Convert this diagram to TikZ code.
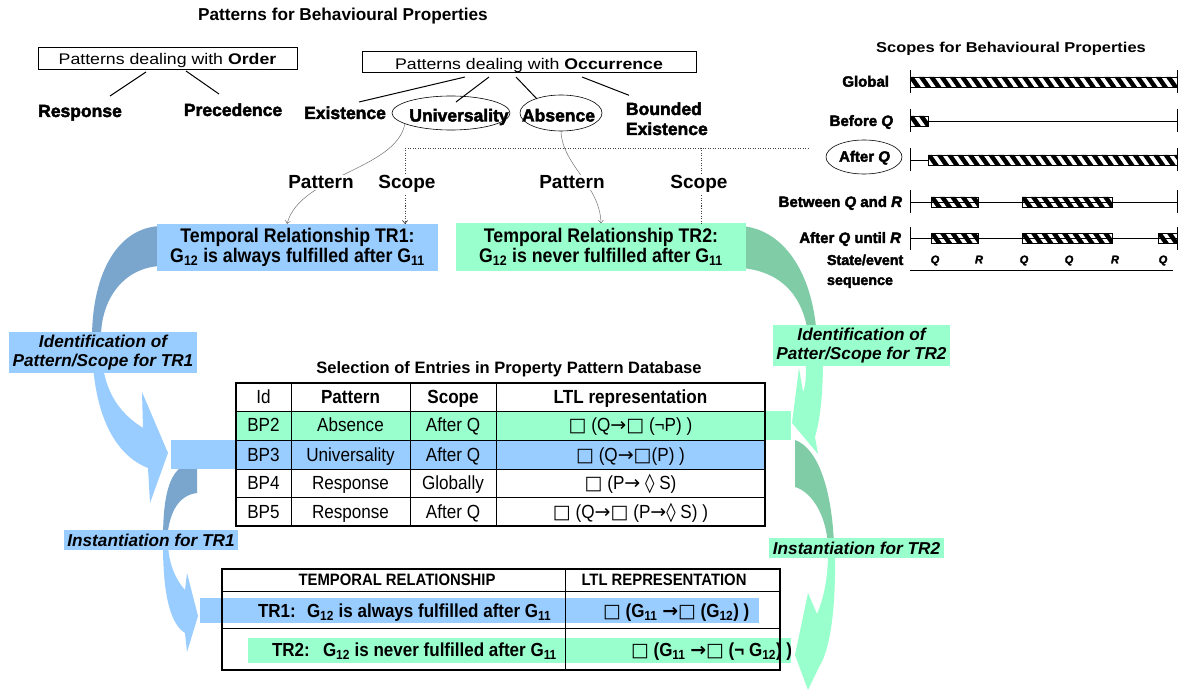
\documentclass[tikz,border=0pt]{standalone}
\usepackage{fontspec}
\setmainfont{Liberation Sans}
\newfontfamily\widef{Liberation Sans}[FakeStretch=1.15]
\newfontfamily\narrowf{Liberation Sans}[FakeStretch=0.9]
\newfontfamily\heavyf{Liberation Sans}[FakeBold=2.5]
\newfontfamily\symf{DejaVu Sans}
\usetikzlibrary{arrows.meta,calc,shapes.geometric}

\definecolor{tblue}{HTML}{99CCFF}
\definecolor{tgreen}{HTML}{99FFCC}
\definecolor{dblue}{HTML}{7AA6CE}
\definecolor{dgreen}{HTML}{7FCCA6}

% LTL operators
\newcommand\ltlbox{{\symf □}}
\newcommand\ltlarr{{\symf →}}
\newcommand\ltlloz{{\symf ◊}}

% hatched interval of a scope line: from x=#1 to x=#2 on the line y=#3
\newcommand\hatchseg[3]{%
  \begin{scope}
    \clip (#1,#3-5) rectangle (#2,#3+5);
    \pgfmathsetmacro\hatchA{#1-12}
    \pgfmathsetmacro\hatchB{#1-1.7}
    \foreach \hx in {\hatchA,\hatchB,...,#2}
      \fill (\hx,#3-5) -- ++(5.5,0) -- ++(7,10) -- ++(-5.5,0) -- cycle;
  \end{scope}
  \draw[line width=0.8pt] (#1,#3-5) rectangle (#2,#3+5);}

\begin{document}
\begin{tikzpicture}[x=1pt,y=-1pt,
  every node/.style={inner sep=0pt,outer sep=0pt},
  heavy/.style={anchor=base,font=\heavyf\bfseries\fontsize{17.5}{20}\selectfont},
  scopelbl/.style={anchor=base east,font=\heavyf\bfseries\fontsize{15}{20}\selectfont},
  pslabel/.style={anchor=base,fill=white,inner sep=1pt,font=\bfseries\fontsize{19}{22}\selectfont},
  catbox/.style={draw,line width=1pt,minimum height=22},
  cattext/.style={anchor=base,font=\widef\fontsize{15.4}{18}\selectfont},
  oval/.style={ellipse,draw,line width=0.6pt},
  trbox/.style={align=center,minimum height=47,font=\narrowf\bfseries\fontsize{19.7}{17.5}\selectfont},
  steplbl/.style={align=center,font=\bfseries\itshape\fontsize{17.2}{19}\selectfont},
  branch/.style={line width=1pt},
  guide/.style={black!55,line width=0.5pt,-{Straight Barb[length=3pt,width=5pt]}},
  dots/.style={black!75,line width=0.7pt,dash pattern=on 1pt off 1.5pt},
  cell/.style={anchor=base,font=\narrowf\fontsize{19}{22}\selectfont},
  cellb/.style={anchor=base,font=\narrowf\bfseries\fontsize{19}{22}\selectfont},
  rowtxt/.style={anchor=base west,font=\narrowf\bfseries\fontsize{18.9}{22}\selectfont},
  headtxt/.style={anchor=base,font=\narrowf\bfseries\fontsize{16.5}{20}\selectfont},
  qr/.style={anchor=base,font=\heavyf\bfseries\itshape\fontsize{11}{13}\selectfont}]

\fill[white] (0,0) rectangle (1179,690);
\useasboundingbox (0,0) rectangle (1179,690);

% ---------- curved step arrows, TR1 side ----------
\fill[dblue] (160,226) .. controls (118,228) and (93,272) .. (92,335)
  -- (92,352) -- (101,352) -- (101,335) .. controls (102,298) and (124,268) .. (160,266) -- cycle;
\fill[tblue] (92,345) .. controls (93,415) and (115,455) .. (148,468)
  -- (150,503) -- (168,453) -- (142,392) -- (143,428)
  .. controls (118,412) and (102,390) .. (101,345) -- cycle;
\fill[dblue] (180,468) -- (197,468) -- (197,493) .. controls (180,495) and (169,510) .. (167,540)
  -- (163,540) .. controls (163,500) and (168,478) .. (180,468) -- cycle;
\fill[tblue] (163,545) .. controls (163,600) and (172,625) .. (185,633)
  -- (187,652) -- (198,616) -- (187,573) -- (185,590)
  .. controls (176,580) and (169,565) .. (168,545) -- cycle;

% ---------- curved step arrows, TR2 side ----------
\fill[dgreen] (742,226) .. controls (785,230) and (814,275) .. (817,340)
  -- (809,340) .. controls (805,300) and (785,272) .. (742,268) -- cycle;
\fill[tgreen] (823,360) .. controls (823,395) and (820,420) .. (815,437)
  -- (818,454) -- (792,423) -- (799,368) -- (803,392)
  .. controls (806,385) and (806,375) .. (806,360) -- cycle;
\fill[dgreen] (795,440) .. controls (818,448) and (832,490) .. (834,545)
  -- (828,545) .. controls (826,515) and (812,492) .. (795,487) -- cycle;
\fill[tgreen] (835,552) .. controls (836,610) and (830,650) .. (819,667)
  -- (808,690) -- (795,655) -- (808,593) -- (817,614)
  .. controls (825,595) and (828,575) .. (828,552) -- cycle;

% ---------- scopes ----------
\node[anchor=base,font=\widef\bfseries\fontsize{14.3}{17}\selectfont] (sct) at (1011,53) {Scopes for Behavioural Properties};
\foreach \yy in {82,121,160,202,238} {
  \draw[line width=0.8pt] (910,\yy-11.5) -- (910,\yy+11.5);
  \draw[line width=0.8pt] (1177,\yy-11.5) -- (1177,\yy+11.5);
}
\draw[line width=0.8pt] (928,121) -- (1177,121);
\draw[line width=0.8pt] (910,160) -- (928,160);
\draw[line width=0.8pt] (910,202) -- (1177,202);
\draw[line width=0.8pt] (910,238) -- (1177,238);
\hatchseg{910}{1177}{82}
\hatchseg{910}{928}{121}
\hatchseg{928}{1177}{160}
\hatchseg{931}{978}{202}
\hatchseg{1022}{1112}{202}
\hatchseg{931}{978}{238}
\hatchseg{1022}{1112}{238}
\hatchseg{1158}{1177}{238}
\node[scopelbl] (sglob) at (889,86.7) {Global};
\node[scopelbl] (sbef) at (893,126) {Before \textit{Q}};
\node[oval,minimum width=76,minimum height=34] (aq) at (864,157) {};
\node[anchor=base,font=\heavyf\bfseries\fontsize{15}{20}\selectfont] (aqt) at (864.5,161.7) {After \textit{Q}};
\node[scopelbl] (sbet) at (902,207) {Between \textit{Q} and \textit{R}};
\node[scopelbl] (sunt) at (901,243) {After \textit{Q} until \textit{R}};
\node[anchor=north west,align=left,font=\heavyf\bfseries\fontsize{14.3}{20}\selectfont] (sseq) at (827,254.6) {State/event\\sequence};
\node[qr] (e1) at (935,263.3) {Q};
\node[qr] (e2) at (979,263.3) {R};
\node[qr] (e3) at (1024,263.3) {Q};
\node[qr] (e4) at (1069,263.3) {Q};
\node[qr] (e5) at (1115,263.3) {R};
\node[qr] (e6) at (1163,263.3) {Q};
\draw[line width=0.8pt] (910,270) -- (1173,270);

% ---------- pattern catalogue ----------
\node[anchor=base,font=\bfseries\fontsize{17.2}{20}\selectfont] (title) at (343,21) {Patterns for Behavioural Properties};
\node[catbox,minimum width=259] (order) at (167.5,59) {};
\node[cattext] (ordert) at (167.5,65) {Patterns dealing with \textbf{Order}};
\node[catbox,minimum width=334,minimum height=21] (occ) at (529,62.5) {};
\node[cattext] (occt) at (529,69.3) {Patterns dealing with \textbf{Occurrence}};
\node[heavy] (resp) at (80,117) {Response};
\node[heavy] (prec) at (233,116) {Precedence};
\node[heavy] (exist) at (345,119) {Existence};
\node[oval,minimum width=118,minimum height=34] (univ) at (451,113) {};
\node[heavy] (univt) at (459,121.5) {Universality};
\node[oval,minimum width=82,minimum height=36] (absn) at (561,113) {};
\node[heavy] (absnt) at (558.5,121.5) {Absence};
\node[heavy,anchor=north west,align=left] (bnd) at (626,102.3) {Bounded\\Existence};
\draw[branch] ($(order.south)+(-21.5,2)$) -- ($(resp.base)+(30,-21)$);
\draw[branch] ($(order.south)+(18.5,1)$) -- ($(prec.base)+(-14,-22)$);
\draw[branch] ($(occ.south)+(-64,4)$) -- ($(exist.base)+(14,-17)$);
\draw[branch] ($(occ.south)+(-40,4)$) -- ($(univ.north)+(5,6)$);
\draw[branch] ($(occ.south)+(-13,4)$) -- ($(absn.north)+(-24,4)$);
\draw[branch] ($(occ.south)+(53,4)$) -- ($(bnd.north west)+(3,-7)$);

% ---------- temporal relationships ----------
\node[trbox,fill=tblue,minimum width=281] (tr1) at (297.5,247.5)
  {Temporal Relationship TR1:\\G\textsubscript{12} is always fulfilled after G\textsubscript{11}};
\node[trbox,fill=tgreen,minimum width=290] (tr2) at (601,247)
  {Temporal Relationship TR2:\\G\textsubscript{12} is never fulfilled after G\textsubscript{11}};

% pattern and scope links
\draw[guide] (univ.193) .. controls (396,170) and (300,175) .. ($(tr1.north)+(-10.5,0)$);
\draw[guide] (absn.south) .. controls (562,165) and (600,185) .. (tr2.north);
\coordinate (sj) at (405,148);
\draw[dots] (sj) -- ($(aq.west)+(-16,-9)$);
\draw[dots,-{Straight Barb[length=3pt,width=5pt]}] (sj) -- ($(tr1.north west)+(248,0)$);
\draw[dots] ($(sj)+(296,0)$) -- ($(tr2.north west)+(245,0)$);
\node[pslabel] (pat1) at (321,189) {Pattern};
\node[pslabel] (sco1) at (407,189) {Scope};
\node[pslabel] (pat2) at (572,189) {Pattern};
\node[pslabel] (sco2) at (699,189) {Scope};

% ---------- step labels ----------
\node[steplbl,fill=tblue,minimum width=188,minimum height=41] (id1) at (103,352.5) {Identification of\\Pattern/Scope for TR1};
\node[steplbl,fill=tblue,minimum width=174,minimum height=20] (in1) at (151,540) {Instantiation for TR1};
\node[steplbl,fill=tgreen,minimum width=177,minimum height=41] (id2) at (861.5,345.5) {Identification of\\Patter/Scope for TR2};
\node[steplbl,fill=tgreen,minimum width=175,minimum height=20] (in2) at (856.5,548) {Instantiation for TR2};

% ---------- property pattern database ----------
\node[anchor=base,font=\bfseries\fontsize{16.5}{20}\selectfont] (dbt) at (509,373) {Selection of Entries in Property Pattern Database};
\fill[tgreen] (236,411) rectangle (791,440);
\fill[tblue] (171,440) rectangle (765,469);
\draw[line width=1pt] (236,411) -- (765,411) (236,440) -- (765,440) (236,469) -- (765,469) (236,497) -- (765,497)
  (291,383) -- (291,526) (410,383) -- (410,526) (496,383) -- (496,526);
\draw[line width=2pt] (236,383) rectangle (765,526);
\node[cell] (h1) at (263.5,403.5) {Id};
\node[cellb] (h2) at (350.5,403.5) {Pattern};
\node[cellb] (h3) at (453,403.5) {Scope};
\node[cellb] (h4) at (630.5,403.5) {LTL representation};
\node[cell] (a1) at (263.5,431.5) {BP2};
\node[cell] (a2) at (350.5,431.5) {Absence};
\node[cell] (a3) at (453,431.5) {After Q};
\node[cell] (a4) at (630.5,431.5) {\ltlbox{} (Q\ltlarr\ltlbox{} (¬P) )};
\node[cell] (b1) at (263.5,461) {BP3};
\node[cell] (b2) at (350.5,461) {Universality};
\node[cell] (b3) at (453,461) {After Q};
\node[cell] (b4) at (630.5,461) {\ltlbox{} (Q\ltlarr\ltlbox(P) )};
\node[cell] (c1) at (263.5,489.5) {BP4};
\node[cell] (c2) at (350.5,489.5) {Response};
\node[cell] (c3) at (453,489.5) {Globally};
\node[cell] (c4) at (630.5,489.5) {\ltlbox{} (P\ltlarr{} \ltlloz{} S)};
\node[cell] (d1) at (263.5,518) {BP5};
\node[cell] (d2) at (350.5,518) {Response};
\node[cell] (d3) at (453,518) {After Q};
\node[cell] (d4) at (630.5,518) {\ltlbox{} (Q\ltlarr\ltlbox{} (P\ltlarr\ltlloz{} S) )};

% ---------- instantiated relationships ----------
\fill[tblue] (200,598) rectangle (759,623);
\fill[tgreen] (248,638) rectangle (791,663);
\draw[line width=1pt] (222,591) -- (780,591) (222,628) -- (780,628) (565,569) -- (565,670);
\draw[line width=1.2pt] (222,569) rectangle (780,670);
\node[headtxt] (th1) at (397,585) {TEMPORAL RELATIONSHIP};
\node[headtxt] (th2) at (664,585) {LTL REPRESENTATION};
\node[rowtxt] (r1a) at (258,617) {TR1:};
\node[rowtxt] (r1b) at (307,617) {G\textsubscript{12} is always fulfilled after G\textsubscript{11}};
\node[rowtxt] (r1c) at (603,617) {\ltlbox{} (G\textsubscript{11} \ltlarr\ltlbox{} (G\textsubscript{12}) )};
\node[rowtxt] (r2a) at (272,656) {TR2:};
\node[rowtxt] (r2b) at (323,656) {G\textsubscript{12} is never fulfilled after G\textsubscript{11}};
\node[rowtxt] (r2c) at (631,656) {\ltlbox{} (G\textsubscript{11} \ltlarr\ltlbox{} (¬ G\textsubscript{12}) )};
\end{tikzpicture}
\end{document}
